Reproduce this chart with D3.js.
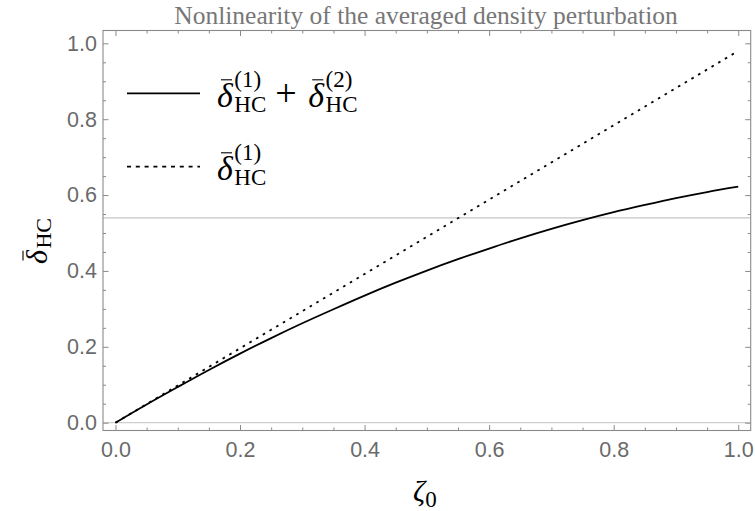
<!DOCTYPE html>
<html>
<head>
<meta charset="utf-8">
<script src="https://cdn.jsdelivr.net/npm/d3@7"></script>
<style>
  html, body { margin: 0; padding: 0; background: #fff; }
  svg { display: block; }
</style>
</head>
<body>
<svg id="chart" width="755" height="511"></svg>
<script>
// ---------------- data ----------------
const zeta = [0, 0.05, 0.1, 0.15, 0.2, 0.25, 0.3, 0.35, 0.4, 0.45, 0.5,
              0.55, 0.6, 0.65, 0.7, 0.75, 0.8, 0.85, 0.9, 0.95, 1.0];
const deltaTotal = [0, 0.048, 0.094, 0.139, 0.182, 0.223, 0.262, 0.299, 0.335, 0.369, 0.401,
                    0.431, 0.459, 0.486, 0.511, 0.534, 0.555, 0.574, 0.592, 0.608, 0.622];
const zetaLin = [0, 0.25, 0.5, 0.75, 1.0];
const deltaFirst = [0, 0.245, 0.49, 0.735, 0.98];
const gridY = [0.54];
const xTicks = [0, 0.2, 0.4, 0.6, 0.8, 1.0];
const yTicks = [0, 0.2, 0.4, 0.6, 0.8, 1.0];
const xMinor = d3.range(0, 1.0001, 0.05).map(v => +v.toFixed(2)).filter(v => !xTicks.includes(v));
const yMinor = d3.range(0, 1.0001, 0.05).map(v => +v.toFixed(2)).filter(v => !yTicks.includes(v));
const titleText = "Nonlinearity of the averaged density perturbation";

// ---------------- layout ----------------
const svg = d3.select("#chart");
const L = 103, R = 750.7, T = 30.5, B = 430.5;
const x = d3.scaleLinear().domain([-0.02, 1.02]).range([L, R]);
const y = d3.scaleLinear().domain([-0.0206, 1.0338]).range([B, T]);

const frameColor = "#8a8a8a";
const labelColor = "#6a6a6a";
const tickFont = "'Liberation Sans', Arial, sans-serif";
const serif = "'Liberation Serif', 'Times New Roman', serif";

// zero axis + grid line
svg.append("line").attr("x1", L).attr("x2", R)
  .attr("y1", y(0)).attr("y2", y(0))
  .attr("stroke", "#cfcfcf").attr("stroke-width", 1.3);
svg.selectAll("line.grid").data(gridY).enter().append("line")
  .attr("class", "grid")
  .attr("x1", L).attr("x2", R)
  .attr("y1", d => y(d)).attr("y2", d => y(d))
  .attr("stroke", "#c4c4c4").attr("stroke-width", 1.1);

// curves
const line = d3.line().x(d => x(d[0])).y(d => y(d[1]));
svg.append("path")
  .datum(zetaLin.map((v, i) => [v, deltaFirst[i]]))
  .attr("d", line).attr("fill", "none")
  .attr("stroke", "#000").attr("stroke-width", 1.8)
  .attr("stroke-dasharray", "2.6,5.2");
svg.append("path")
  .datum(zeta.map((v, i) => [v, deltaTotal[i]]))
  .attr("d", d3.line().curve(d3.curveCatmullRom).x(d => x(d[0])).y(d => y(d[1])))
  .attr("fill", "none")
  .attr("stroke", "#000").attr("stroke-width", 1.8);

// axes helper
function styleAxis(g, showLabels) {
  g.select(".domain").remove();
  g.selectAll(".tick line").attr("stroke", frameColor).attr("stroke-width", 1);
  if (!showLabels) g.selectAll(".tick text").remove();
  else g.selectAll(".tick text").attr("fill", labelColor)
        .style("font-family", tickFont).style("font-size", "21.5px");
}
function addAxis(axisFn, transform, ticks, size, labels, fmt) {
  const g = svg.append("g").attr("transform", transform)
    .call(axisFn.tickValues(ticks).tickSize(size).tickPadding(labels ? labels : 3)
      .tickFormat(labels ? fmt : () => ""));
  styleAxis(g, !!labels);
  return g;
}
const f1 = d3.format(".1f");
// bottom
addAxis(d3.axisBottom(x), `translate(0,${B})`, xTicks, -5.5, 11, f1);
addAxis(d3.axisBottom(x), `translate(0,${B})`, xMinor, -3, 0);
// top
addAxis(d3.axisTop(x), `translate(0,${T})`, xTicks, -5.5, 0);
addAxis(d3.axisTop(x), `translate(0,${T})`, xMinor, -3, 0);
// left
addAxis(d3.axisLeft(y), `translate(${L},0)`, yTicks, -5.5, 6, f1);
addAxis(d3.axisLeft(y), `translate(${L},0)`, yMinor, -3, 0);
// right
addAxis(d3.axisRight(y), `translate(${R},0)`, yTicks, -5.5, 0);
addAxis(d3.axisRight(y), `translate(${R},0)`, yMinor, -3, 0);

// frame
svg.append("rect").attr("x", L).attr("y", T).attr("width", R - L).attr("height", B - T)
  .attr("fill", "none").attr("stroke", frameColor).attr("stroke-width", 1.1);

// title
svg.append("text").attr("x", 426).attr("y", 23.5).attr("text-anchor", "middle")
  .style("font-family", serif).style("font-size", "25.5px").attr("fill", "#777")
  .text(titleText);

// math helper: δ̄ with optional sup and sub
function deltaBar(g, x0, base, fs, sup, sub, subFs) {
  const d = g.append("text").attr("x", x0).attr("y", base)
    .style("font-family", serif).style("font-style", "italic").style("font-size", fs + "px")
    .attr("fill", "#000").text("δ");
  const w = d.node().getComputedTextLength();
  g.append("line").attr("x1", x0 + w * 0.25).attr("x2", x0 + w * 0.95)
    .attr("y1", base - fs * 0.8).attr("y2", base - fs * 0.8)
    .attr("stroke", "#000").attr("stroke-width", 1.1);
  let adv = w + 1.5;
  let maxW = 0;
  if (sup) {
    const s = g.append("text").attr("x", x0 + adv).attr("y", base - fs * 0.6)
      .style("font-family", serif).style("font-size", subFs + "px").attr("fill", "#000").text(sup);
    maxW = Math.max(maxW, s.node().getComputedTextLength());
  }
  if (sub) {
    const s = g.append("text").attr("x", x0 + adv).attr("y", base + fs * 0.14)
      .style("font-family", serif).style("font-size", subFs + "px").attr("fill", "#000").text(sub);
    maxW = Math.max(maxW, s.node().getComputedTextLength());
  }
  return x0 + adv + maxW;
}

// legend
const legendItems = [
  { y: 93.3, dash: null },
  { y: 166.7, dash: "4,4.8" }
];
const lg = svg.append("g");
legendItems.forEach(it => {
  lg.append("line").attr("x1", 127).attr("x2", 200).attr("y1", it.y).attr("y2", it.y)
    .attr("stroke", "#000").attr("stroke-width", 1.8)
    .attr("stroke-dasharray", it.dash);
});
{
  const base = 107;
  let xe = deltaBar(lg, 217, base, 34, "(1)", "HC", 23);
  lg.append("text").attr("x", xe + 9).attr("y", base - 1)
    .style("font-family", serif).style("font-size", "38px").style("font-weight", "300")
    .attr("fill", "#000").text("+");
  deltaBar(lg, xe + 42, base, 34, "(2)", "HC", 23);
  deltaBar(lg, 217, 180, 34, "(1)", "HC", 23);
}

// y label (rotated)
const yl = svg.append("g").attr("transform", "translate(47,264) rotate(-90)");
deltaBar(yl, 0, 0, 30, null, "HC", 22);

// x label
const xl = svg.append("text").attr("x", 413).attr("y", 501)
  .style("font-family", serif).attr("fill", "#000");
xl.append("tspan").style("font-style", "italic").style("font-size", "30px").text("ζ");
xl.append("tspan").attr("dy", 6).style("font-size", "23px").text("0");
</script>
</body>
</html>
